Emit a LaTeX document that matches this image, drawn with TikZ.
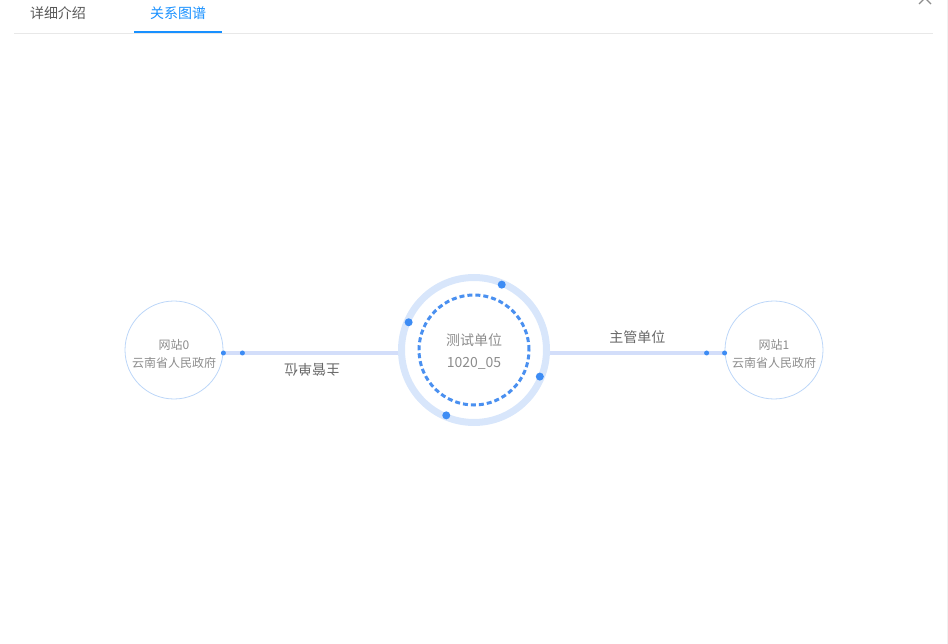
\documentclass[tikz,border=0pt]{standalone}
\usepackage{fontspec}
\setmainfont{Noto Sans CJK SC}
\usepackage{tikz}
\definecolor{tabblue}{HTML}{1890FF}
\definecolor{tabgray}{HTML}{595959}
\definecolor{rulegray}{HTML}{E8E8E8}
\definecolor{textgray}{HTML}{8C8C8C}
\definecolor{labelgray}{HTML}{666666}
\definecolor{ringblue}{HTML}{D8E6FB}
\definecolor{dashblue}{HTML}{4A90F0}
\definecolor{dotblue}{HTML}{3D8CF4}
\definecolor{linkblue}{HTML}{D3DEFA}
\definecolor{sitering}{HTML}{BCD6F8}
\tikzset{
	site/.style={circle,draw=sitering,line width=0.8pt,minimum size=98pt,inner sep=0pt},
	sitetext/.style={align=center,text=textgray,font=\fontsize{12}{18}\selectfont},
	hub/.style={circle,minimum size=152pt,inner sep=0pt},
	hubtext/.style={align=center,text=textgray,font=\fontsize{14}{22}\selectfont},
	link/.style={line width=4pt,draw=linkblue},
	elabel/.style={text=labelgray,font=\fontsize{14}{16}\selectfont},
	tab/.style={font=\fontsize{14}{16}\selectfont}
}

\begin{document}
\begin{tikzpicture}[x=1pt,y=-1pt]
	\useasboundingbox (0,0) rectangle (948,644);
	% tabs
	\node (tabinfo) at(58,13) [tab,text=tabgray]{详细介绍};
	\node (tabgraph) at(178,13) [tab,text=tabblue]{关系图谱};
	\draw [line width=0.8pt,draw=rulegray](14,33)--(933,33);
	\draw [line width=2pt,draw=tabblue](134,32)--(222,32);
	\draw [line width=1.2pt,draw=textgray](919,-8)--(931,4) (931,-8)--(919,4);
	\draw [line width=0.6pt,draw=rulegray!60](947,0)--(947,644);
	% nodes
	\node (hub) at(474,350) [hub]{};
	\node (hubname) at([yshift=-2pt]hub.center) [hubtext]{测试单位\\1020\_05};
	\node (site0) at(174,350) [site]{};
	\node (site0name) at([yshift=-4pt]site0.center) [sitetext]{网站0\\云南省人民政府};
	\node (site1) at(774,350) [site]{};
	\node (site1name) at([yshift=-4pt]site1.center) [sitetext]{网站1\\云南省人民政府};
	% links
	\draw [link]([yshift=-3pt]site0.east)--([yshift=-3pt]hub.west)
		node [midway,xshift=1.5pt,yshift=-17pt,elabel,rotate=180]{主管单位};
	\draw [link]([yshift=-3pt]hub.east)--([yshift=-3pt]site1.west)
		node [midway,yshift=16pt,elabel]{主管单位};
	\foreach \s in{0,19}
		\fill [dotblue]([xshift=\s pt,yshift=-3pt]site0.east) circle(2.5pt);
	\foreach \s in{0,-18}
		\fill [dotblue]([xshift=\s pt,yshift=-3pt]site1.west) circle(2.5pt);
	% rings
	\draw [line width=7pt,draw=ringblue](hub.center) circle(72.5pt);
	\draw [line width=3pt,draw=dashblue,dash pattern=on 5pt off 3pt](hub.center) circle(55pt);
	\foreach \a in{67,157,247,338}
		\fill [dotblue](hub.center) ++(\a:71pt) circle(4pt);
\end{tikzpicture}
\end{document}
